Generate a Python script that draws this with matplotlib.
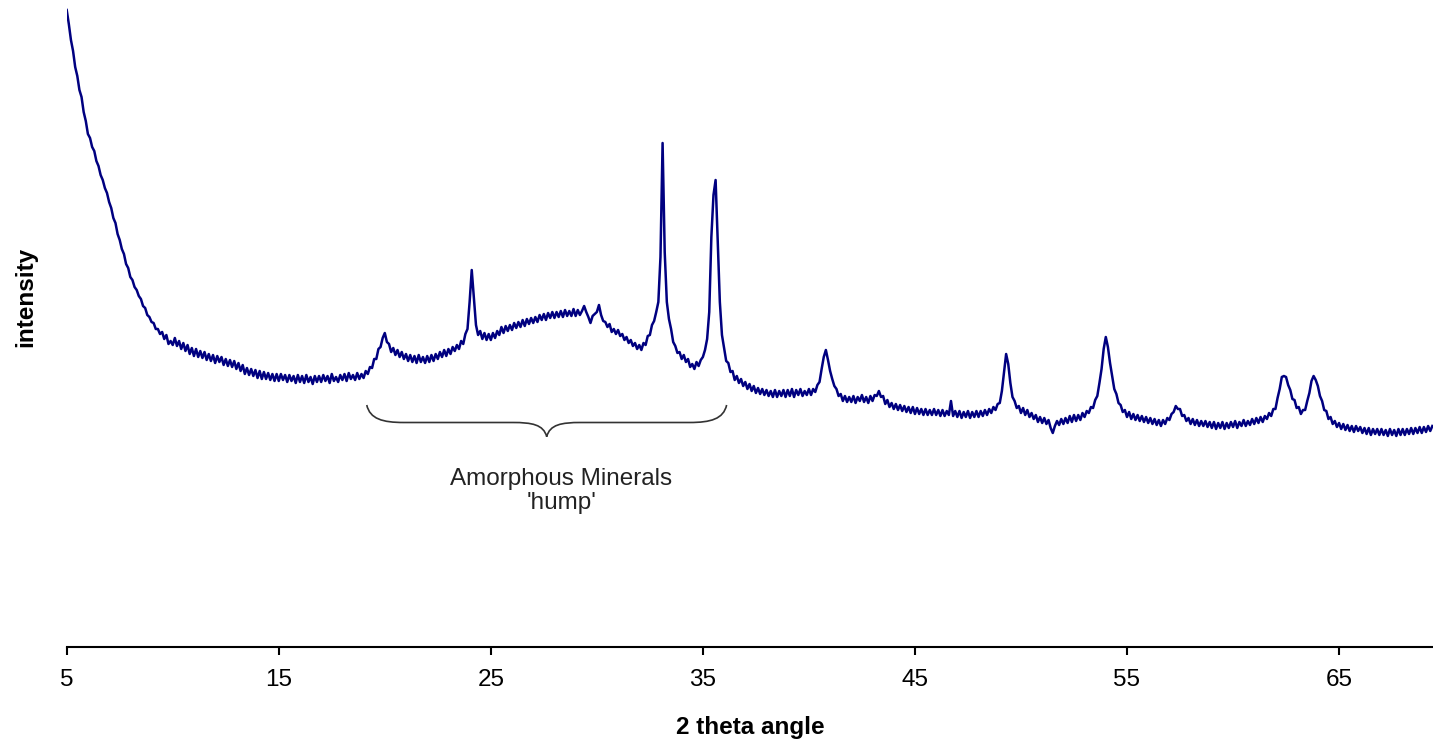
import numpy as np
import matplotlib
matplotlib.use("Agg")
import matplotlib.pyplot as plt
from matplotlib.path import Path
from matplotlib.patches import PathPatch

plt.rcParams['font.family'] = ['Liberation Sans', 'DejaVu Sans']

# 2-theta sampling (degrees), one value every 0.1 degree from 5.0 to 69.4
two_theta = np.round(np.arange(50, 695) / 10.0, 1)

# intensity (arbitrary units), one row per degree
intensity = [
    637, 623, 607, 596, 580, 571, 557, 550, 535, 526,   # 5
    513, 509, 500, 496, 486, 481, 472, 467, 459, 454,   # 6
    445, 439, 429, 424, 413, 407, 398, 393, 383, 379,   # 7
    370, 367, 360, 357, 351, 348, 341, 339, 332, 330,   # 8
    325, 324, 318, 318, 313, 315, 308, 312, 303, 306,   # 9
    302, 309, 301, 306, 298, 304, 296, 302, 293, 299,   # 10
    291, 298, 290, 296, 289, 295, 287, 293, 286, 292,   # 11
    284, 291, 285, 290, 282, 288, 281, 287, 280, 286,   # 12
    278, 284, 276, 282, 273, 279, 272, 278, 271, 277,   # 13
    269, 276, 268, 275, 268, 274, 267, 273, 266, 273,   # 14
    266, 273, 267, 272, 265, 272, 266, 271, 264, 272,   # 15
    265, 271, 264, 272, 265, 270, 263, 271, 265, 271,   # 16
    265, 272, 266, 271, 264, 273, 266, 270, 265, 272,   # 17
    267, 273, 266, 274, 268, 272, 267, 274, 268, 273,   # 18
    269, 276, 273, 280, 279, 288, 288, 298, 300, 309,   # 19
    314, 305, 303, 295, 299, 292, 297, 290, 295, 288,   # 20
    293, 286, 292, 285, 291, 284, 292, 285, 290, 284,   # 21
    291, 285, 292, 286, 293, 288, 295, 290, 297, 291,   # 22
    298, 293, 300, 296, 302, 298, 306, 303, 313, 318,   # 23
    345, 377, 350, 322, 312, 316, 308, 314, 307, 313,   # 24
    307, 314, 309, 316, 312, 320, 314, 321, 316, 322,   # 25
    317, 324, 319, 325, 320, 327, 321, 328, 323, 329,   # 26
    324, 330, 325, 332, 327, 333, 327, 334, 329, 335,   # 27
    329, 335, 330, 336, 330, 337, 331, 336, 331, 338,   # 28
    331, 337, 332, 336, 341, 335, 330, 324, 331, 333,   # 29
    335, 342, 332, 326, 325, 320, 323, 315, 318, 313,   # 30
    317, 311, 313, 307, 310, 304, 307, 301, 304, 298,   # 31
    302, 297, 304, 302, 311, 312, 322, 326, 335, 345,   # 32
    390, 504, 395, 345, 328, 318, 305, 301, 294, 295,   # 33
    288, 292, 285, 288, 280, 283, 278, 285, 281, 287,   # 34
    290, 297, 308, 335, 410, 452, 467, 405, 345, 312,   # 35
    299, 286, 284, 275, 276, 267, 271, 264, 268, 261,   # 36
    265, 258, 263, 256, 261, 254, 259, 253, 258, 252,   # 37
    257, 251, 256, 250, 257, 250, 256, 251, 257, 250,   # 38
    257, 251, 258, 250, 257, 252, 258, 251, 256, 252,   # 39
    258, 252, 258, 255, 262, 265, 278, 290, 297, 287,   # 40
    276, 268, 261, 258, 251, 253, 246, 251, 245, 250,   # 41
    245, 251, 244, 250, 246, 252, 245, 250, 244, 251,   # 42
    246, 252, 251, 256, 250, 251, 243, 247, 240, 244,   # 43
    238, 243, 237, 242, 236, 241, 235, 240, 234, 240,   # 44
    233, 239, 233, 238, 232, 238, 232, 237, 232, 238,   # 45
    232, 237, 231, 237, 231, 236, 232, 246, 231, 236,   # 46
    230, 236, 229, 235, 230, 236, 229, 235, 230, 236,   # 47
    230, 236, 231, 237, 232, 238, 234, 240, 237, 243,   # 48
    244, 256, 275, 293, 283, 264, 250, 246, 239, 241,   # 49
    234, 239, 232, 237, 230, 234, 228, 232, 225, 230,   # 50
    224, 229, 223, 227, 219, 214, 221, 226, 222, 228,   # 51
    223, 229, 224, 231, 225, 232, 226, 232, 227, 234,   # 52
    230, 236, 234, 240, 239, 247, 251, 264, 278, 298,   # 53
    310, 300, 284, 271, 258, 253, 244, 242, 235, 237,   # 54
    230, 235, 228, 233, 227, 232, 226, 231, 225, 230,   # 55
    224, 229, 223, 228, 222, 227, 221, 227, 223, 229,   # 56
    227, 233, 235, 241, 238, 238, 231, 232, 226, 229,   # 57
    223, 228, 222, 227, 221, 226, 221, 226, 220, 225,   # 58
    219, 225, 218, 224, 219, 225, 218, 224, 219, 225,   # 59
    220, 226, 219, 225, 221, 227, 221, 226, 222, 228,   # 60
    223, 229, 224, 230, 225, 231, 228, 234, 231, 238,   # 61
    238, 249, 258, 270, 271, 270, 262, 257, 248, 247,   # 62
    239, 240, 233, 237, 237, 246, 254, 266, 271, 267,   # 63
    261, 251, 246, 237, 236, 228, 230, 223, 226, 220,   # 64
    224, 218, 223, 217, 222, 216, 221, 215, 221, 216,   # 65
    220, 214, 219, 213, 219, 212, 218, 213, 218, 212,   # 66
    218, 212, 217, 211, 218, 212, 217, 211, 218, 212,   # 67
    218, 212, 218, 213, 219, 213, 219, 214, 220, 214,   # 68
    220, 215, 221, 216, 221,                            # 69
]

x_ticks = [5, 15, 25, 35, 45, 55, 65]
x_label = "2 theta angle"
y_label = "intensity"
hump_range = (19.15, 36.12)

W, H = 1433, 741
fig = plt.figure(figsize=(W / 100, H / 100), dpi=100)
ax = fig.add_axes([66.7 / W, (H - 647) / H, 1 - 66.7 / W, 647 / H])

ax.plot(two_theta, intensity, color='#000080', lw=1.8, solid_joinstyle='round')

ax.set_xlim(5, 69.43)
ax.set_ylim(0, 647)
for s in ['left', 'right', 'top']:
    ax.spines[s].set_visible(False)
ax.spines['bottom'].set_linewidth(1.5)
ax.set_yticks([])
ax.set_xticks(x_ticks)
ax.set_xticklabels([str(t) for t in x_ticks])
ax.tick_params(axis='x', length=6, width=1.5, pad=10, labelsize=17.5, direction='out')

# curly brace under the amorphous hump
x0, x1 = hump_range
xm = (x0 + x1) / 2
yt, yh, ytip = 242, 224.5, 210.3
verts = [
    (x0, yt), (x0 + 0.15, yt - 14), (x0 + 0.75, yh), (x0 + 1.75, yh),
    (xm - 1.6, yh),
    (xm - 0.7, yh), (xm - 0.15, yh - 2), (xm, ytip),
    (xm + 0.15, yh - 2), (xm + 0.7, yh), (xm + 1.6, yh),
    (x1 - 1.75, yh),
    (x1 - 0.75, yh), (x1 - 0.15, yt - 14), (x1, yt),
]
codes = [Path.MOVETO, Path.CURVE4, Path.CURVE4, Path.CURVE4,
         Path.LINETO,
         Path.CURVE4, Path.CURVE4, Path.CURVE4,
         Path.CURVE4, Path.CURVE4, Path.CURVE4,
         Path.LINETO,
         Path.CURVE4, Path.CURVE4, Path.CURVE4]
ax.add_patch(PathPatch(Path(verts, codes), facecolor='none', edgecolor='#333333', lw=1.2))

fig.text(561.5 / W, 1 - 485 / H, "Amorphous Minerals", ha='center', va='baseline',
         fontsize=17.5, color='#222222')
fig.text(561.5 / W, 1 - 509 / H, "'hump'", ha='center', va='baseline',
         fontsize=17.5, color='#222222')

fig.text(750 / W, 1 - 734 / H, x_label, ha='center', va='baseline',
         fontsize=17.5, fontweight='bold')
fig.text(26 / W, 1 - 297 / H, y_label, ha='center', va='center', rotation=90,
         fontsize=17.5, fontweight='bold')

fig.savefig("out.png", dpi=100)
